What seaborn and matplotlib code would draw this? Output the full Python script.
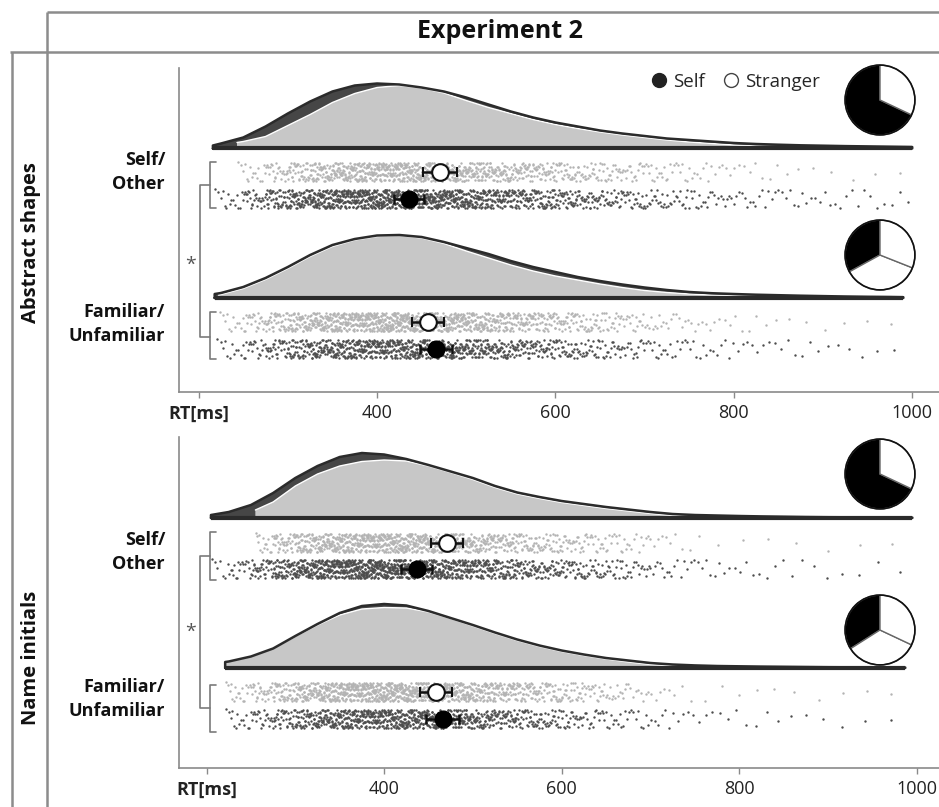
import numpy as np
import matplotlib
matplotlib.use("Agg")
import matplotlib.pyplot as plt
from matplotlib.lines import Line2D
import seaborn as sns

# ---------------------------------------------------------------
# values
# RT in ms, density heights in arbitrary units (peak ~ 65)
# ---------------------------------------------------------------

# Abstract shapes, Self/Other
abs_so_self_rt = [216, 225, 250, 275, 300, 325, 350, 375, 400, 425, 450, 475, 500, 525, 550, 575, 600,
                  625, 650, 675, 700, 725, 750, 775, 800, 825, 850, 875, 900, 925, 950, 975, 1000]
abs_so_self_d = [3, 5, 11, 22, 35, 47, 57, 63, 65, 64, 61, 57, 51, 44, 37, 31, 26,
                 22, 18, 15, 12.5, 10, 8.5, 7, 5.5, 4.5, 3.8, 3.2, 2.8, 2.4, 2.1, 1.8, 1.5]
abs_so_str_rt = [243, 250, 275, 300, 325, 350, 375, 400, 425, 450, 475, 500, 525, 550, 575, 600,
                 625, 650, 675, 700, 725, 750, 775, 800, 825, 850, 875, 900, 950, 1000]
abs_so_str_d = [6, 7, 12, 23, 34, 46, 55, 61, 63, 60.5, 55.5, 48, 41, 35, 29, 24,
                20, 16.5, 13.5, 11, 8.5, 6.5, 5, 3.5, 2.5, 1.8, 1.2, 0.8, 0.7, 0.6]

# Abstract shapes, Familiar/Unfamiliar
abs_fu_self_rt = [218, 225, 250, 275, 300, 325, 350, 375, 400, 425, 450, 475, 500, 525, 550, 575, 600,
                  625, 650, 675, 700, 725, 750, 775, 800, 825, 850, 875, 900, 925, 950, 975, 990]
abs_fu_self_d = [4, 5, 11, 20, 31, 43, 53, 59, 62.5, 63, 61, 56, 50, 44, 37, 31, 26,
                 21, 17, 13.5, 10.5, 8, 6, 4.8, 4, 3.3, 2.8, 2.3, 1.9, 1.5, 1.2, 1, 0.8]
abs_fu_str_rt = [222, 225, 250, 275, 300, 325, 350, 375, 400, 425, 450, 475, 500, 525, 550, 575, 600,
                 625, 650, 675, 700, 725, 750, 775, 800, 825, 850, 870, 930, 990]
abs_fu_str_d = [3, 3.5, 9.5, 18.5, 29.5, 41.5, 51.5, 58, 61.5, 62.5, 60, 54.5, 47, 40, 33, 27, 22,
                18, 14, 10.5, 7.5, 5.5, 4, 3, 2.2, 1.6, 1.1, 0.8, 0.6, 0.5]

# Name initials, Self/Other
nam_so_self_rt = [205, 225, 250, 275, 300, 325, 350, 375, 400, 425, 450, 475, 500, 525, 550, 575, 600,
                  625, 650, 675, 700, 725, 750, 775, 800, 825, 850, 875, 900, 925, 950, 975, 995]
nam_so_self_d = [3, 6, 13, 25, 40, 52, 61, 65, 63.5, 59, 53, 46.5, 40, 32, 25.5, 21, 17,
                 14, 11, 8.5, 6, 4, 3, 2.5, 2, 1.6, 1.3, 1, 0.8, 0.7, 0.6, 0.5, 0.4]
nam_so_str_rt = [255, 275, 300, 325, 350, 375, 400, 425, 450, 475, 500, 525, 550, 575, 600,
                 625, 650, 675, 700, 725, 750, 765, 850, 990]
nam_so_str_d = [8, 16, 32, 44, 52, 56.5, 58, 57, 52, 45.5, 38.5, 30.5, 24, 19.5, 15.5,
                12.5, 9.5, 7, 4.5, 2.5, 1.2, 0.6, 0.5, 0.35]

# Name initials, Familiar/Unfamiliar
nam_fu_self_rt = [221, 225, 250, 275, 300, 325, 350, 375, 400, 425, 450, 475, 500, 525, 550, 575, 600,
                  625, 650, 675, 700, 725, 750, 775, 800, 825, 850, 875, 900, 925, 950, 987]
nam_fu_self_d = [6, 6.5, 11.5, 19.5, 32, 44, 55, 62, 64, 62.5, 57, 50, 43, 35.5, 28.5, 22.5, 17.5,
                 13.5, 10, 7.5, 5, 3.5, 2.6, 2, 1.7, 1.4, 1.2, 1, 0.8, 0.7, 0.6, 0.5]
nam_fu_str_rt = [221, 225, 250, 275, 300, 325, 350, 375, 400, 425, 450, 475, 500, 525, 550, 575, 600,
                 625, 650, 675, 700, 725, 750, 850, 985]
nam_fu_str_d = [6, 6.5, 11.5, 19.5, 31.5, 43, 53, 59, 60.5, 60, 56, 49.5, 42, 34.5, 27.5, 21.5, 16.5,
                12.5, 9, 6, 3.5, 2, 0.8, 0.6, 0.4]

# order: abstract S/O, abstract F/U, name S/O, name F/U
mean_self = [436, 466, 437, 466]
sem_self = [17, 18, 17.5, 18.5]
mean_stranger = [471, 457, 471, 459]
sem_stranger = [19, 18, 18, 18]
n_self = [1300, 950, 1300, 950]
n_stranger = [950, 1150, 950, 1150]

pie_abs_so = [68, 32]
pie_abs_fu = [33, 36, 31]
pie_nam_so = [68, 32]
pie_nam_fu = [34, 34, 32]

blocks = ["Abstract shapes", "Name initials"]
conditions = ["Self/\nOther", "Familiar/\nUnfamiliar"]
tick_vals = [200, 400, 600, 800, 1000]
tick_text = ["RT[ms]", "400", "600", "800", "1000"]

groups = [
    (abs_so_self_rt, abs_so_self_d, abs_so_str_rt, abs_so_str_d),
    (abs_fu_self_rt, abs_fu_self_d, abs_fu_str_rt, abs_fu_str_d),
    (nam_so_self_rt, nam_so_self_d, nam_so_str_rt, nam_so_str_d),
    (nam_fu_self_rt, nam_fu_self_d, nam_fu_str_rt, nam_fu_str_d),
]
pies = [pie_abs_so, pie_abs_fu, pie_nam_so, pie_nam_fu]

# ---------------------------------------------------------------
sns.set_theme(style="white")
plt.rcParams["font.family"] = ["Open Sans", "DejaVu Sans"]

W, H = 939, 807
fig = plt.figure(figsize=(W / 100, H / 100), dpi=100)

DARK_FILL = "#464646"
DARK_EDGE = "#2b2b2b"
LIGHT_FILL = "#c7c7c7"
DOT_DARK = "#4d4d4d"
DOT_LIGHT = "#b3b3b3"
FRAME = "#8c8c8c"
GOLDEN = 0.6180339887498949


def px_axes(x0, y0, x1, y1):
    return fig.add_axes([x0 / W, 1 - y1 / H, (x1 - x0) / W, (y1 - y0) / H])


def rain(rt, dens, n, yc, half):
    # n trial dots placed at the quantiles of the read density curve,
    # spread vertically with a quadratic Weyl sequence (fixed, no RNG)
    rt = np.asarray(rt, float)
    d = np.asarray(dens, float)
    cum = np.concatenate([[0], np.cumsum(np.diff(rt) * (d[1:] + d[:-1]) / 2)])
    k = np.arange(n)
    x = np.interp((k + 0.5) / n * cum[-1], cum, rt)
    v = (k * k * GOLDEN + k * 0.5) % 1
    return x, yc + (v - 0.5) * 2 * half


# panels: (pixel box, x-limits, density baselines, dot rows)
panels = [
    dict(box=(179, 68, 939, 392), xlim=(178, 1030), base=[148.5, 298], rows=[(172, 199), (322, 349)]),
    dict(box=(179, 437, 939, 768), xlim=(169, 1025), base=[518, 668], rows=[(543, 569), (692, 719)]),
]

for p, panel in enumerate(panels):
    x0, y0, x1, y1 = panel["box"]
    ax = px_axes(x0, y0, x1, y1)
    ax.set_xlim(*panel["xlim"])
    ax.set_ylim(y1, y0)
    ax.patch.set_alpha(0)

    for c in range(2):
        g = 2 * p + c
        s_rt, s_d, t_rt, t_d = groups[g]
        base = panel["base"][c]
        y_str, y_self = panel["rows"][c]

        s_rt = np.asarray(s_rt, float)
        s_y = base - np.asarray(s_d, float)
        t_rt = np.asarray(t_rt, float)
        t_y = base - np.asarray(t_d, float)
        poly_x = np.concatenate([[s_rt[0]], s_rt, [s_rt[-1], s_rt[0]]])
        poly_y = np.concatenate([[base], s_y, [base, base]])

        ax.fill(poly_x, poly_y, color=DARK_FILL, lw=0, zorder=2)
        ax.fill(np.concatenate([[t_rt[0]], t_rt, [t_rt[-1]]]),
                np.concatenate([[base], t_y, [base]]), color=LIGHT_FILL, lw=0, zorder=3)
        ax.plot(t_rt, t_y, color="white", lw=1.0, zorder=3.5)
        ax.plot(poly_x, poly_y, color=DARK_EDGE, lw=1.8, zorder=4, solid_joinstyle="round")
        ax.plot([s_rt[0], s_rt[-1]], [base, base], color=DARK_EDGE, lw=3, zorder=4,
                solid_capstyle="butt")

        # rain: raw trials
        xs, ys = rain(t_rt, t_d, n_stranger[g], y_str, 9.5)
        sns.scatterplot(x=xs, y=ys, ax=ax, s=3, color=DOT_LIGHT,
                        linewidth=0, legend=False, zorder=5)
        xs, ys = rain(s_rt, s_d, n_self[g], y_self, 9.5)
        sns.scatterplot(x=xs, y=ys, ax=ax, s=3, color=DOT_DARK,
                        linewidth=0, legend=False, zorder=5)

        # means with error bars
        ax.errorbar(mean_stranger[g], y_str, xerr=sem_stranger[g], fmt="o", ms=12,
                    mfc="white", mec="#111", mew=1.5, ecolor="#111", elinewidth=1.8,
                    capsize=3.5, capthick=1.8, zorder=7)
        ax.errorbar(mean_self[g], y_self, xerr=sem_self[g], fmt="o", ms=12,
                    mfc="black", mec="black", ecolor="#111", elinewidth=1.8,
                    capsize=3.5, capthick=1.8, zorder=7)

    sns.despine(ax=ax)
    for side in ["left", "bottom"]:
        ax.spines[side].set_color("#8a8a8a")
        ax.spines[side].set_linewidth(1.2)
    ax.set_yticks([])
    ax.set_xticks(tick_vals)
    ax.set_xticklabels(tick_text)
    ax.get_xticklabels()[0].set_fontweight("bold")
    ax.tick_params(axis="x", bottom=True, length=4, width=1, color="#8a8a8a",
                   labelsize=13, labelcolor="#222222", pad=5)

# legend
handles = [
    Line2D([], [], marker="o", ls="", mfc="#222222", mec="#222222", ms=10, label="Self"),
    Line2D([], [], marker="o", ls="", mfc="white", mec="#444444", mew=1, ms=10, label="Stranger"),
]
fig.legend(handles=handles, loc="center", bbox_to_anchor=(735 / W, 1 - 82 / H), ncol=2,
           frameon=False, fontsize=13.5, handletextpad=0.25, columnspacing=0.9, handlelength=1)

# overlay for frame, labels and brackets (pixel coordinates)
ov = fig.add_axes([0, 0, 1, 1])
ov.set_xlim(0, W)
ov.set_ylim(H, 0)
ov.axis("off")
ov.patch.set_alpha(0)

for xs_, ys_ in [([47, W], [12, 12]), ([10, W], [52, 52]), ([47, 47], [12, H]), ([12, 12], [52, H])]:
    ov.plot(xs_, ys_, color=FRAME, lw=1.8, solid_capstyle="butt")

ov.text(500, 31, "Experiment 2", ha="center", va="center", fontsize=18, fontweight="bold",
        color="#111111")
for label, yc in zip(blocks, [243, 658]):
    ov.text(31, yc, label, rotation=90, ha="center", va="center", fontsize=14.5,
            fontweight="bold", color="#111111")

cond_y = [[172, 324], [552, 699]]
small_br = [[(162, 208), (312, 359)], [(532, 580), (685, 732)]]
big_br = [(185, 337), (556, 708)]
star_y = [265, 632]
for p in range(2):
    for c in range(2):
        ov.text(165, cond_y[p][c], conditions[c], ha="right", va="center", fontsize=13,
                fontweight="bold", color="#111111", linespacing=1.45)
        t, b = small_br[p][c]
        ov.plot([216, 210, 210, 216], [t, t, b, b], color="#7a7a7a", lw=1.2)
    t, b = big_br[p]
    ov.plot([210, 200, 200, 210], [t, t, b, b], color="#7a7a7a", lw=1.2)
    ov.text(191, star_y[p], "*", ha="center", va="center", fontsize=14, color="#555555")

# pie charts
pie_centers = [(880, 100), (880, 255), (880, 474), (880, 630)]
for vals, (cx, cy) in zip(pies, pie_centers):
    pa = px_axes(cx - 37, cy - 37, cx + 37, cy + 37)
    cols = ["black"] + ["white"] * (len(vals) - 1)
    pa.pie(vals, colors=cols, startangle=90, counterclock=True,
           wedgeprops=dict(edgecolor="#666666", linewidth=1))
    pa.add_patch(plt.Circle((0, 0), 1, fill=False, ec="#111111", lw=1.2))
    pa.set_xlim(-1.06, 1.06)
    pa.set_ylim(-1.06, 1.06)
    pa.set_aspect("equal")
    pa.axis("off")

fig.savefig("out.png", dpi=100, facecolor="white")
